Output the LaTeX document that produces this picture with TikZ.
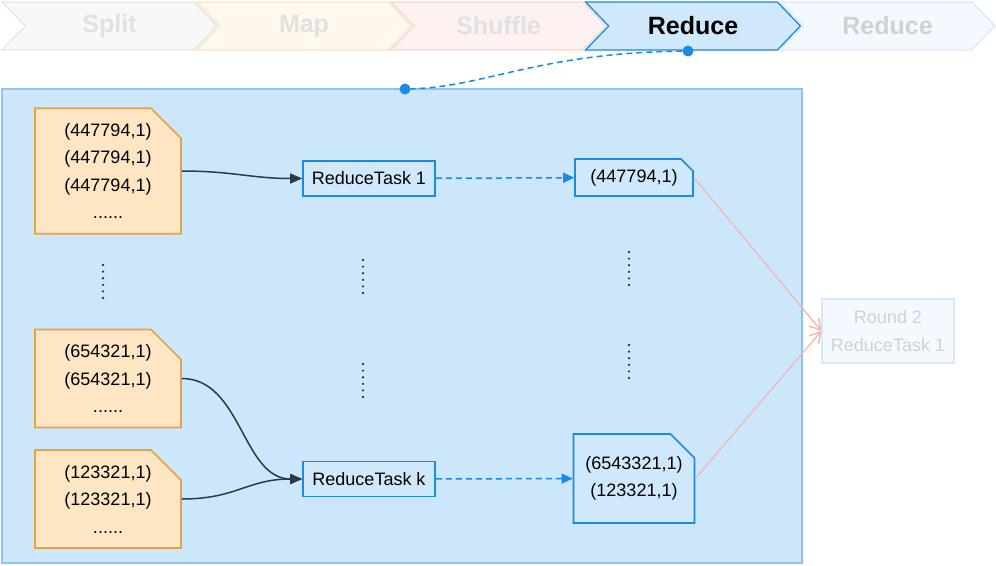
\documentclass[tikz,border=0pt]{standalone}
\usepackage{fontspec}
\setmainfont{Liberation Sans}
\usepackage{xcolor}
\usepackage{tikz}
\usetikzlibrary{arrows.meta,positioning,calc,shapes.misc,shapes.symbols}
\definecolor{cStage}{HTML}{CCE6FB}
\definecolor{cStageLine}{HTML}{8EC5EF}
\definecolor{cBlue}{HTML}{1A8AE5}
\definecolor{cTask}{HTML}{D0E8FC}
\definecolor{cOrange}{HTML}{FEE5C4}
\definecolor{cOrangeLine}{HTML}{E2A443}
\definecolor{cDark}{HTML}{2F3A45}
\definecolor{cPink}{HTML}{F2B7B3}
\definecolor{cFaint}{HTML}{F3F9FE}
\definecolor{cFaintLine}{HTML}{D8EAF9}
\definecolor{cFaintText}{HTML}{CDD2D7}
\definecolor{cSplit}{HTML}{F8F8F8}
\definecolor{cSplitLine}{HTML}{E6E6E6}
\definecolor{cMap}{HTML}{FFF8EE}
\definecolor{cMapLine}{HTML}{FBE4C0}
\definecolor{cShuf}{HTML}{FDF1F1}
\definecolor{cShufLine}{HTML}{F4D8D8}
\definecolor{cGone}{HTML}{E3E1DF}
\newcommand\bodyfont{\fontsize{18}{27.5}\selectfont}
\tikzset{
  phase/.style n args={3}{signal, signal to=east, signal from=west, signal pointer angle=92,
              draw=#1, fill=#2, text=#3, line width=1.3pt, minimum width=215pt, minimum height=48pt,
              inner sep=0pt, font=\fontsize{25}{30}\selectfont\bfseries},
  stage/.style={draw=cStageLine, fill=cStage, line width=1.5pt, minimum width=800pt, minimum height=474pt},
  doc/.style={chamfered rectangle, chamfered rectangle corners=north east, chamfered rectangle sep=#1,
              draw=cOrangeLine, fill=cOrange, line width=1.6pt, minimum width=146pt,
              align=center, font=\bodyfont, inner sep=0pt},
  out/.style={chamfered rectangle, chamfered rectangle corners=north east, chamfered rectangle sep=#1,
              draw=cBlue, fill=cTask, line width=1.6pt, minimum width=118pt,
              align=center, font=\bodyfont, inner sep=0pt},
  task/.style={draw=cBlue, fill=cTask, line width=1.6pt, minimum width=132pt, minimum height=35pt,
               font=\bodyfont, inner sep=0pt},
  next/.style={draw=cFaintLine, fill=cFaint, text=cFaintText, line width=1.3pt, minimum width=132pt,
               minimum height=64pt, align=center, font=\bodyfont, inner sep=0pt},
  pin/.style={circle, fill=cBlue, inner sep=0pt, minimum size=11pt},
  feed/.style={-{Triangle[length=12pt,width=10pt]}, line width=1.5pt, draw=cDark},
  emit/.style={-{Triangle[length=11pt,width=10pt]}, line width=1.5pt, draw=cBlue, dash pattern=on 6pt off 4pt},
  pass/.style={-{Straight Barb[angle=64:12pt,line width=1.5pt]}, line width=1.3pt, draw=cPink},
  more/.style={line width=2.6pt, line cap=round, dash pattern=on 0pt off 6.6pt, draw=cDark},
}
\begin{document}
\begin{tikzpicture}[x=1pt,y=-1pt]
  \useasboundingbox (0,0) rectangle (996,565);
  \node[phase={cSplitLine}{cSplit}{cGone}] (split) at (109.5,26) {Split};
  \node[phase={cMapLine}{cMap}{cGone}] (map) at (304,26) {Map};
  \node[phase={cShufLine}{cShuf}{cGone}] (shuf) at (498.5,26) {Shuffle};
  \node[phase={cBlue}{cTask}{black}] (red) at (693,26) {Reduce};
  \node[phase={cFaintLine}{cFaint}{cFaintText}] (red2) at (887.5,26) {Reduce};
  \node[stage] (st) at (402,326) {};
  \node[pin] (p1) at (688,51) {};
  \node[pin] (p2) at (405,89) {};
  \draw[line width=1.5pt, draw=cBlue, dash pattern=on 6pt off 4pt] (p1) .. controls +(-150,2) and +(80,-2) .. (p2);
  \node[doc=15pt, minimum height=122pt] (d1) at (108,171) {(447794,1)\\(447794,1)\\(447794,1)\\......};
  \node[doc=15pt, minimum height=91pt] (d2) at (108,378.5) {(654321,1)\\(654321,1)\\......};
  \node[doc=15pt, minimum height=92pt] (d3) at (108,499) {(123321,1)\\(123321,1)\\......};
  \node[task] (t1) at (369,178.5) {ReduceTask 1};
  \node[task] (tk) at (369,479) {ReduceTask k};
  \node[out=6pt, minimum height=37pt] (o1) at (634,177.5) {(447794,1)};
  \node[out=12pt, minimum height=89pt] (o2) at (634,478.5) {(6543321,1)\\(123321,1)};
  \node[next] (r2) at (888,331) {Round 2\\ReduceTask 1};
  \draw[more] (103,265) -- (103,298);
  \draw[more] (363,260) -- (363,293);
  \draw[more] (363,364) -- (363,397);
  \draw[more] (629,252) -- (629,285);
  \draw[more] (629,345) -- (629,378);
  \draw[feed] (d1.east) .. controls +(50,0) and +(-50,0) .. (t1.west);
  \draw[feed] (d2.east) .. controls +(60,0) and +(-60,0) .. (tk.west);
  \draw[feed] (d3.east) .. controls +(55,0) and +(-55,0) .. (tk.west);
  \draw[emit] (t1) -- (o1);\draw[emit] (tk) -- (o2);
  \draw[pass] (o1.east) -- (r2.west);\draw[pass] (o2.east) -- (r2.west);
\end{tikzpicture}
\end{document}
